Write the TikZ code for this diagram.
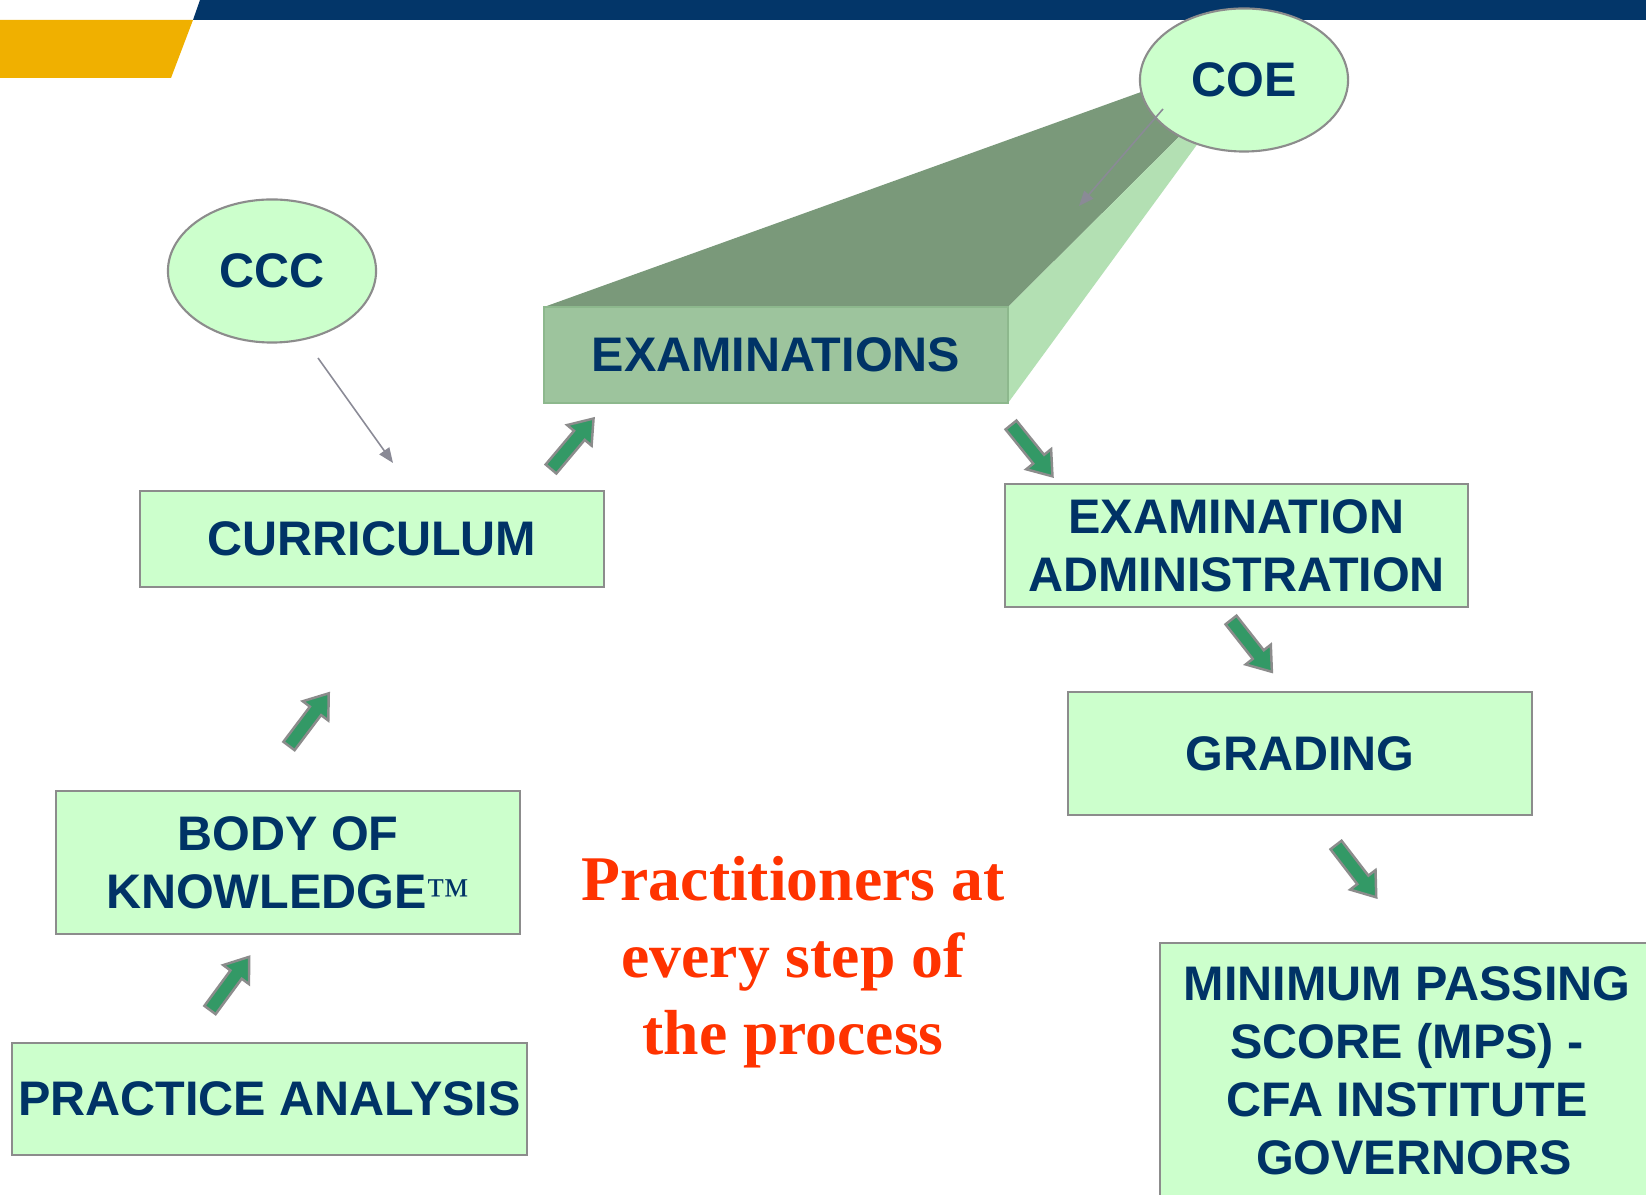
\documentclass[tikz,border=0pt]{standalone}
\usepackage{fontspec}
\setmainfont{Liberation Sans}
\newfontfamily\tmfont{Liberation Serif}
\newfontfamily\redserif{Liberation Serif}
\usetikzlibrary{arrows.meta}
\usetikzlibrary{shapes.geometric}
\usetikzlibrary{positioning}

\definecolor{boxgreen}{HTML}{CCFFCC}
\definecolor{boxline}{HTML}{8C8C8C}
\definecolor{navytext}{HTML}{003366}
\definecolor{navybar}{HTML}{033669}
\definecolor{goldbar}{HTML}{F0B000}
\definecolor{topface}{HTML}{7A997A}
\definecolor{frontface}{HTML}{9DC49D}
\definecolor{frontline}{HTML}{8DB88D}
\definecolor{sideface}{HTML}{B3E0B3}
\definecolor{arrgreen}{HTML}{339966}
\definecolor{thingray}{HTML}{8A8A96}
\definecolor{redtext}{HTML}{FF3300}

\tikzset{
  stepbox/.style={rectangle,draw=boxline,line width=0.6pt,fill=boxgreen,text=navytext,
    font=\fontsize{13.8}{16.5}\selectfont\bfseries,align=center,inner sep=0pt},
  bubble/.style={ellipse,draw=boxline,line width=0.6pt,fill=boxgreen,text=navytext,
    font=\fontsize{13.8}{16.5}\selectfont\bfseries,minimum width=2.08cm,minimum height=1.43cm,inner sep=0pt},
  steparr/.style={fill=arrgreen,draw=boxline,line width=0.7pt,line join=miter},
  thinarr/.style={draw=thingray,line width=0.45pt,-{Triangle[length=0.15cm,width=0.12cm]}},
  redlabel/.style={text=redtext,font=\redserif\fontsize{18.1}{21.9}\selectfont\bfseries,align=center}
}

\newcommand{\steparrow}[2]{%
  \pgfmathanglebetweenpoints{\pgfpointanchor{#1}{center}}{\pgfpointanchor{#2}{center}}%
  \let\arrang\pgfmathresult
  \begin{scope}[shift={(#1)},rotate=\arrang]
    \draw[steparr] (0,-7) -- (44,-7) -- (44,-16) -- (66,0) -- (44,16) -- (44,7) -- (0,7) -- cycle;
  \end{scope}}

\begin{document}
\begin{tikzpicture}[x=0.01cm,y=-0.01cm]
\clip (0,0) rectangle (1646,1195);
\fill[white] (0,0) rectangle (1646,1195);

\fill[navybar] (200,0) -- (1660,0) -- (1660,20) -- (193,20) -- cycle;
\fill[goldbar] (0,20) -- (193,20) -- (171,78) -- (0,78) -- cycle;

\fill[topface] (544,307) -- (1180,78) -- (1200,116) -- (1008,307) -- cycle;
\fill[sideface] (1008,307) -- (1200,116) -- (1215,120) -- (1008,403) -- cycle;
\node[stepbox,fill=frontface,draw=frontline,minimum width=4.64cm,minimum height=0.96cm] (exams) at (776,355) {EXAMINATIONS};

\node[bubble] (coe) at (1244,80) {COE};
\node[bubble] (ccc) at (272,271) {CCC};

\node[stepbox,minimum width=4.64cm,minimum height=0.96cm] (curr) at (372,539) {CURRICULUM};
\node[stepbox,minimum width=4.64cm,minimum height=1.43cm] (body) at (288,862.5) {BODY OF\\KNOWLEDGE{\tmfont\fontsize{12.5}{16.5}\selectfont\mdseries ™}};
\node[stepbox,minimum width=5.15cm,minimum height=1.12cm] (prac) at (269.5,1099) {PRACTICE ANALYSIS};
\node[stepbox,minimum width=4.63cm,minimum height=1.23cm] (admin) at (1236.5,545.5) {EXAMINATION\\ADMINISTRATION};
\node[stepbox,minimum width=4.64cm,minimum height=1.23cm] (grad) at (1300,753.5) {GRADING};
\node[stepbox,minimum width=4.94cm,minimum height=2.56cm] (mps) at (1407,1071) {MINIMUM PASSING\\SCORE (MPS) -\\CFA INSTITUTE\\\hspace{0.28em}GOVERNORS};

\node[redlabel] (practitioners) at (793,962) {Practitioners at\\every step of\\the process};

\coordinate (ccct) at (318,358);
\coordinate (ccch) at (393,463);
\coordinate (coet) at (1163,109);
\coordinate (coeh) at (1079,206);
\draw[thinarr] (ccct) -- (ccch);
\draw[thinarr] (coet) -- (coeh);

\coordinate (a1t) at (210,1010);
\coordinate (a1h) at (249,957);
\coordinate (a2t) at (289,746);
\coordinate (a2h) at (329,693);
\coordinate (a3t) at (551,469);
\coordinate (a3h) at (594,418);
\coordinate (a4t) at (1011,425);
\coordinate (a4h) at (1053,477);
\coordinate (a5t) at (1231,620);
\coordinate (a5h) at (1272,672);
\coordinate (a6t) at (1336,845);
\coordinate (a6h) at (1376,897);
\steparrow{a1t}{a1h}
\steparrow{a2t}{a2h}
\steparrow{a3t}{a3h}
\steparrow{a4t}{a4h}
\steparrow{a5t}{a5h}
\steparrow{a6t}{a6h}

\end{tikzpicture}
\end{document}
